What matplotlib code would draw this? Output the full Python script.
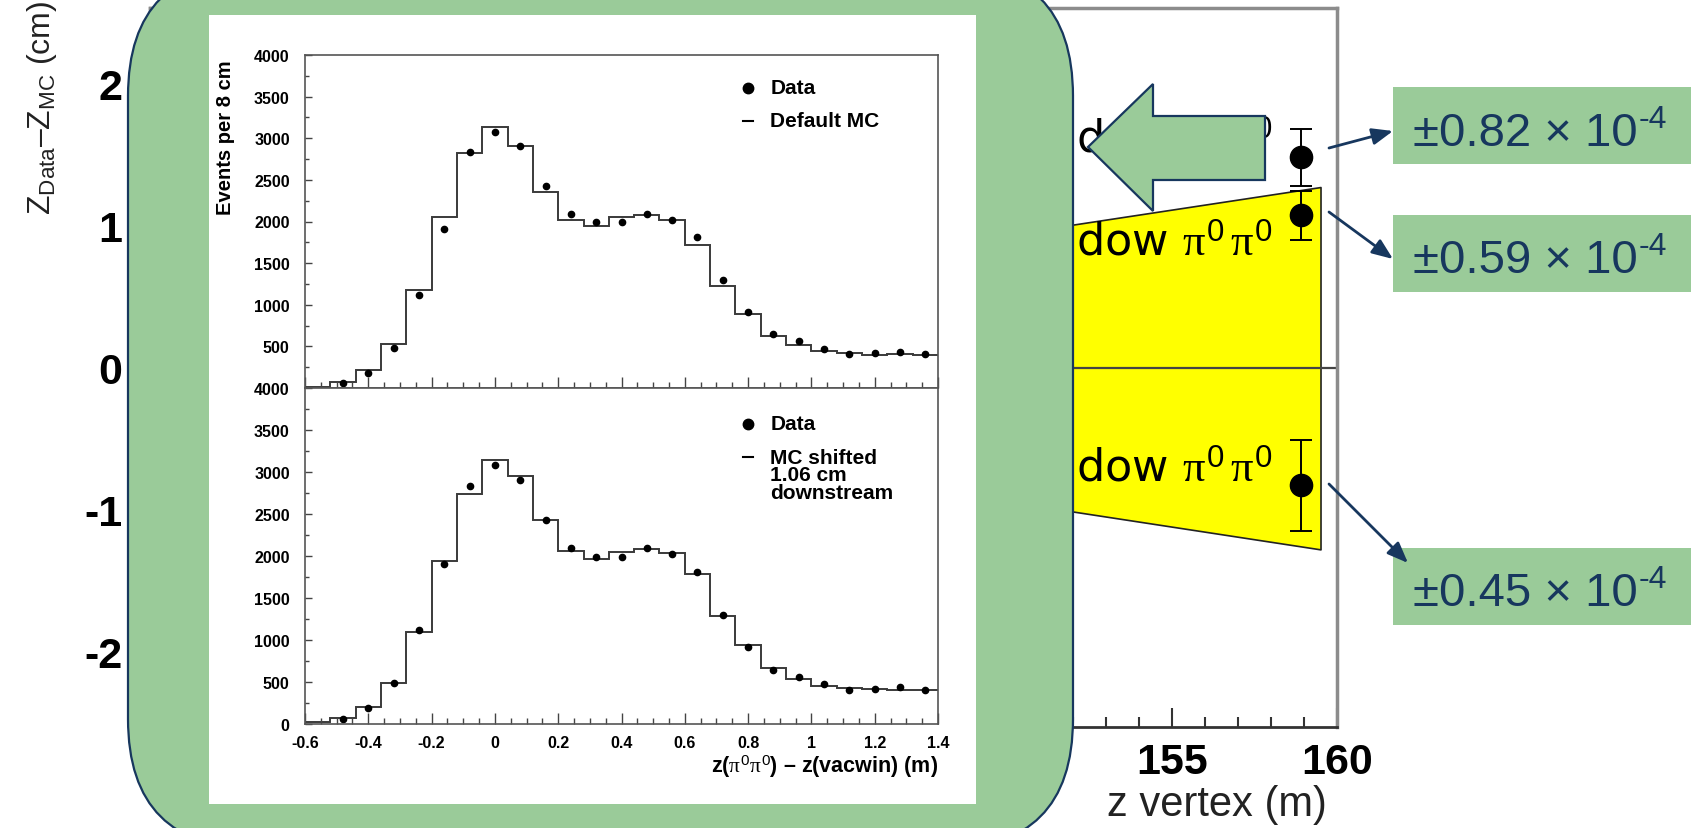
import numpy as np
import matplotlib
matplotlib.use('Agg')
import matplotlib.pyplot as plt
import matplotlib.patches as mpatches
from matplotlib.ticker import MultipleLocator, FixedLocator, FuncFormatter

plt.rcParams['font.family'] = ['Liberation Sans', 'DejaVu Sans']
plt.rcParams['mathtext.fontset'] = 'custom'
plt.rcParams['mathtext.rm'] = 'Liberation Sans'
plt.rcParams['mathtext.it'] = 'Liberation Serif'
plt.rcParams['mathtext.bf'] = 'Liberation Sans:bold'

# ---- background plot: z vertex residuals ----
pt_z = [158.9, 158.9, 158.9]
pt_y = [1.48, 1.07, -0.83]
pt_err = [0.20, 0.17, 0.32]
band_z = [124.0, 159.5]
band_hi = [0.02, 1.27]
band_lo = [-0.02, -1.28]
row_labels = ['Vacuum window $\\pi^0\\,\\pi^0$'] * 3
row_label_y = [1.52, 0.80, -0.79]
z_ticks = [155, 160]

# ---- inset histograms: 8 cm bins ----
bin_edges = np.round(np.linspace(-0.6, 1.4, 26), 2)
data = [np.nan, 62, 186, 483, 1114, 1904, 2830, 3080, 2908, 2430, 2092, 1990, 1990,
        2093, 2020, 1815, 1294, 918, 644, 562, 474, 404, 418, 438, 410]
mc_default = [16, 68, 216, 529, 1177, 2058, 2819, 3139, 2905, 2356, 2022, 1950, 2050,
              2078, 2022, 1718, 1221, 889, 628, 517, 448, 420, 400, 408, 396]
mc_shifted = [20, 68, 200, 488, 1099, 1938, 2738, 3138, 2955, 2434, 2060, 1965, 2048,
              2084, 2037, 1780, 1291, 939, 671, 540, 452, 428, 412, 408, 400]

callouts = ['±0.82 × 10', '±0.59 × 10', '±0.45 × 10']
callout_exp = '-4'

W, H = 1691, 829
GREEN = '#9acb99'
NAVY = '#17375e'


def frac(x0, y0, x1, y1):
    # pixel box (top-left origin) -> figure fraction rect
    return [x0 / W, 1 - y1 / H, (x1 - x0) / W, (y1 - y0) / H]


fig = plt.figure(figsize=(W / 100, H / 100), dpi=100)
fig.patch.set_facecolor('white')

# background axes
ax = fig.add_axes(frac(150, 9, 1337, 728), zorder=0)
ax.set_xlim(124, 160)
ax.set_ylim(-2.53, 2.53)
ax.fill_between(band_z, band_lo, band_hi, facecolor='#ffff00', edgecolor='#222222', lw=1.2, zorder=1)
ax.axhline(0, color='#444444', lw=1.6, zorder=2)
ax.errorbar(pt_z, pt_y, yerr=pt_err, fmt='o', color='black', ms=16, capsize=8,
            elinewidth=1.4, capthick=1.4, zorder=4)
for lab, yy in zip(row_labels, row_label_y):
    ax.text(158.03, yy, lab, ha='right', va='baseline', fontsize=32, family='DejaVu Sans',
            color='black', zorder=3)
ax.xaxis.set_major_locator(FixedLocator(z_ticks))
ax.xaxis.set_minor_locator(MultipleLocator(1))
ax.yaxis.set_major_locator(MultipleLocator(1))
ax.yaxis.set_major_formatter(FuncFormatter(lambda v, p: f'{v:.0f}'.replace('\u2212', '-')))
ax.tick_params(which='both', direction='in', color='#333333', width=1.5)
ax.tick_params(which='major', length=14)
ax.tick_params(which='minor', length=7)
ax.tick_params(axis='x', pad=11, labelsize=31)
ax.tick_params(axis='y', pad=20, labelsize=31)
for t in ax.get_xticklabels() + ax.get_yticklabels():
    t.set_fontweight('bold')
for s in ['top', 'right', 'left']:
    ax.spines[s].set_color('#8c8c8c')
    ax.spines[s].set_linewidth(2.5)
ax.spines['bottom'].set_color('#333333')
ax.spines['bottom'].set_linewidth(2)
fig.text(1217 / W, 1 - 805 / H, 'z vertex (m)', ha='center', va='center', fontsize=30, color='#222222')
fig.text(42 / W, 1 - 108 / H, '$\\mathrm{Z_{Data}}$–$\\mathrm{Z_{MC}}$ (cm)', rotation=90,
         ha='center', va='center', fontsize=23, color='#222222')

# overlay shapes in pixel coordinates
ov = fig.add_axes([0, 0, 1, 1], zorder=1)
ov.set_xlim(0, W)
ov.set_ylim(H, 0)
ov.set_axis_off()
ov.add_patch(mpatches.FancyBboxPatch((128, -33), 945, 883, boxstyle='round,pad=0,rounding_size=130',
                                     facecolor=GREEN, edgecolor=NAVY, lw=1.6))
ov.add_patch(mpatches.Rectangle((209, 16), 767, 789, facecolor='white', edgecolor='none'))
ov.add_patch(mpatches.Polygon([(1088, 148), (1153, 85), (1153, 117), (1265, 117), (1265, 181),
                               (1153, 181), (1153, 212)], closed=True,
                              facecolor=GREEN, edgecolor=NAVY, lw=1.6))
box_top = [88, 216, 549]
base_y = [146, 273, 606]
arrow_from = [(1329, 149), (1329, 213), (1329, 485)]
arrow_to = [(1393, 132), (1393, 260), (1408, 564)]
renderer = fig.canvas.get_renderer()
for txt, bt, by, a0, a1 in zip(callouts, box_top, base_y, arrow_from, arrow_to):
    ov.add_patch(mpatches.Rectangle((1393, bt), 320, 77, facecolor=GREEN, edgecolor='none'))
    t = ov.text(1413, by, txt, fontsize=34, color=NAVY, va='baseline', ha='left')
    bb = t.get_window_extent(renderer)
    ov.text(bb.x1 + 1, by - 18, callout_exp, fontsize=23, color=NAVY, va='baseline', ha='left')
    ov.annotate('', xy=a1, xytext=a0,
                arrowprops=dict(arrowstyle='-|>,head_length=0.45,head_width=0.18', color=NAVY,
                                lw=2, mutation_scale=28, shrinkA=0, shrinkB=0))

# histogram panels
centers = (bin_edges[:-1] + bin_edges[1:]) / 2
ax_top = fig.add_axes(frac(305, 56, 938, 389), zorder=2)
ax_bot = fig.add_axes(frac(305, 389, 938, 725), zorder=2)
for a, mc in [(ax_top, mc_default), (ax_bot, mc_shifted)]:
    a.stairs(mc, bin_edges, baseline=None, color='#3a3a3a', lw=1.4)
    a.plot(centers, data, 'o', color='black', ms=4.5, ls='none')
    a.set_xlim(-0.6, 1.4)
    a.set_ylim(0, 4000)
    a.xaxis.set_major_locator(MultipleLocator(0.2))
    a.xaxis.set_minor_locator(MultipleLocator(0.05))
    a.yaxis.set_major_locator(MultipleLocator(500))
    a.yaxis.set_minor_locator(MultipleLocator(250))
    a.tick_params(which='both', direction='in', color='#444444', width=1, top=False, right=False)
    a.tick_params(axis='x', which='major', length=8, pad=8)
    a.tick_params(axis='x', which='minor', length=4)
    a.tick_params(axis='y', which='major', length=5, pad=11)
    a.tick_params(axis='y', which='minor', length=3)
    for s in a.spines.values():
        s.set_color('#555555')
        s.set_linewidth(1.2)
    a.tick_params(labelsize=11.5)

ax_top.set_yticks(np.arange(500, 4001, 500))
ax_top.set_xticklabels([])
ax_bot.xaxis.set_major_formatter(FuncFormatter(lambda v, p: f'{v:g}'.replace('\u2212', '-')))
ax_bot.yaxis.set_major_formatter(FuncFormatter(lambda v, p: f'{v:g}'))
for a in (ax_top, ax_bot):
    for t in a.get_xticklabels() + a.get_yticklabels():
        t.set_fontweight('bold')

fig.text(225 / W, 1 - 138 / H, 'Events per 8 cm', rotation=90, ha='center', va='center',
         fontsize=14.5, fontweight='bold', zorder=5)
ax_bot.text(1.0, -0.125, 'z($\\pi^0\\pi^0$) – z(vacwin) (m)', transform=ax_bot.transAxes,
            ha='right', va='center', fontsize=15.5, fontweight='bold')

# legends
kw = dict(transform=ax_top.transAxes, va='center', ha='left', fontsize=15, fontweight='bold')
ax_top.plot([0.700], [0.901], 'o', color='black', ms=7.5, transform=ax_top.transAxes)
ax_top.plot([0.692, 0.708], [0.802, 0.802], color='black', lw=1.5, transform=ax_top.transAxes)
ax_top.text(0.735, 0.901, 'Data', **kw)
ax_top.text(0.735, 0.802, 'Default MC', **kw)
kw['transform'] = ax_bot.transAxes
ax_bot.plot([0.700], [0.893], 'o', color='black', ms=7.5, transform=ax_bot.transAxes)
ax_bot.plot([0.692, 0.708], [0.795, 0.795], color='black', lw=1.5, transform=ax_bot.transAxes)
ax_bot.text(0.735, 0.893, 'Data', **kw)
ax_bot.text(0.735, 0.742, 'MC shifted\n1.06 cm\ndownstream', linespacing=0.9, **kw)

fig.savefig('out.png', dpi=100)
